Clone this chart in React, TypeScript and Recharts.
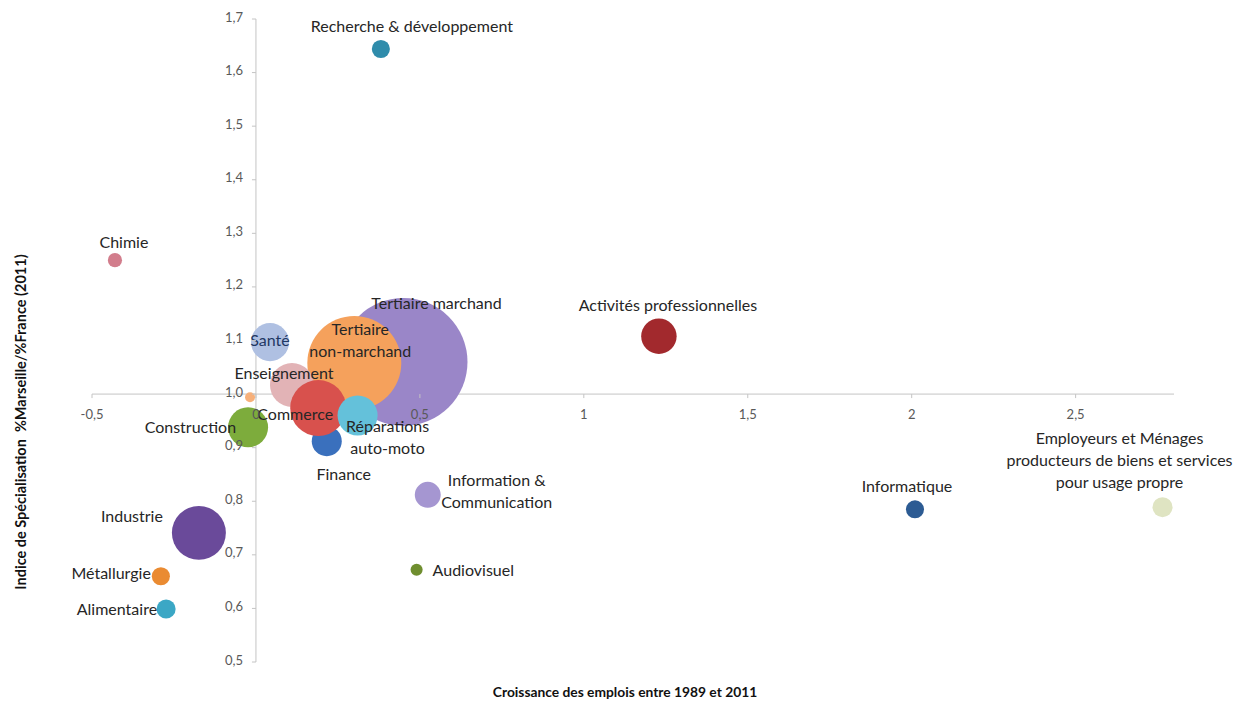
import React from 'react';
import { ScatterChart, Scatter, XAxis, YAxis, ZAxis, ReferenceLine, ReferenceDot } from 'recharts';

// Sectors, in drawing order (first one sits underneath)
const sectors = [
  'Tertiaire marchand',
  'Tertiaire\nnon-marchand',
  'Enseignement',
  'Finance',
  'Commerce',
  'Réparations\nauto-moto',
  'Santé',
  'Construction',
  'Autres',
  'Industrie',
  'Métallurgie',
  'Alimentaire',
  'Chimie',
  'Recherche & développement',
  'Activités professionnelles',
  'Information &\nCommunication',
  'Audiovisuel',
  'Informatique',
  'Employeurs et Ménages\nproducteurs de biens et services\npour usage propre',
];

// Croissance des emplois 1989-2011
const growth = [0.45, 0.3, 0.11, 0.216, 0.19, 0.31, 0.043, -0.024, -0.018, -0.174, -0.29, -0.274, -0.43, 0.381, 1.229, 0.524, 0.49, 2.01, 2.765];

// Indice de spécialisation %Marseille/%France (2011)
const specialisation = [1.06, 1.058, 1.017, 0.912, 0.974, 0.96, 1.097, 0.938, 0.994, 0.741, 0.66, 0.599, 1.25, 1.644, 1.108, 0.812, 0.672, 0.785, 0.789];

// Emplois (milliers) -> bubble area
const jobs = [180, 97, 21.3, 9.9, 34.5, 17.6, 15.9, 17.6, 1.1, 32, 3.6, 4.0, 2.2, 3.6, 13.8, 7.4, 1.6, 3.6, 4.4];

const xTicks = [-0.5, 0, 0.5, 1, 1.5, 2, 2.5];
const xTickLabels = ['-0,5', '0', '0,5', '1', '1,5', '2', '2,5'];
const yTicks = [0.5, 0.6, 0.7, 0.8, 0.9, 1.0, 1.1, 1.2, 1.3, 1.4, 1.5, 1.6, 1.7];
const yTickLabels = ['0,5', '0,6', '0,7', '0,8', '0,9', '1,0', '1,1', '1,2', '1,3', '1,4', '1,5', '1,6', '1,7'];

const bubbleColors = [
  '#9a86c8', '#f5a15c', '#e2b3b6', '#3a70bd', '#d8514d', '#64c1da', '#afc0e2', '#7dac3c',
  '#f7b07a', '#6a4a9a', '#ea8b32', '#3ba7c5', '#d27d8c', '#2f8cab', '#a2292d', '#a596d1',
  '#6f8e2f', '#2c5b93', '#dfe4c2',
];

// label offset from the bubble centre, null = no label
type LabelPlace = { dx: number; dy: number; anchor: 'start' | 'middle' | 'end'; color?: string } | null;
const labelLayout: LabelPlace[] = [
  { dx: 33, dy: -59, anchor: 'middle' },
  { dx: 6, dy: -23, anchor: 'middle' },
  { dx: -8, dy: -12, anchor: 'middle' },
  { dx: 17, dy: 33, anchor: 'middle' },
  { dx: -23, dy: 6, anchor: 'middle' },
  { dx: 30, dy: 22, anchor: 'middle' },
  { dx: 0, dy: -2, anchor: 'middle', color: '#1f3864' },
  { dx: -12, dy: 0, anchor: 'end' },
  null,
  { dx: -36, dy: -16, anchor: 'end' },
  { dx: -10, dy: -3, anchor: 'end' },
  { dx: -9, dy: 0, anchor: 'end' },
  { dx: 9, dy: -18, anchor: 'middle' },
  { dx: 31, dy: -23, anchor: 'middle' },
  { dx: 9, dy: -31, anchor: 'middle' },
  { dx: 69, dy: -3, anchor: 'middle' },
  { dx: 16, dy: 1, anchor: 'start' },
  { dx: -8, dy: -23, anchor: 'middle' },
  { dx: -43, dy: -47, anchor: 'middle' },
];

const data = sectors.map((name, i) => ({ name, idx: i, x: growth[i], y: specialisation[i], z: jobs[i] }));

const FONT = "Lato, 'Open Sans', sans-serif";
const AXIS_COLOR = '#c4c4c4';
const TICK_COLOR = '#595959';

const Bubble = (props: any) => {
  const { cx, cy, width, payload } = props;
  return <circle cx={cx} cy={cy} r={width / 2} fill={bubbleColors[payload.idx]} />;
};

const BubbleLabel = (props: any) => {
  const { cx, cy, payload } = props;
  const place = labelLayout[payload.idx];
  if (!place) return <g />;
  const lines: string[] = payload.name.split('\n');
  const lineHeight = 22;
  const top = cy + place.dy - ((lines.length - 1) * lineHeight) / 2;
  return (
    <g>
      {lines.map((line, k) => (
        <text
          key={k}
          x={cx + place.dx}
          y={top + k * lineHeight}
          dy="0.35em"
          textAnchor={place.anchor}
          fontFamily={FONT}
          fontSize={16}
          fill={place.color || '#262626'}
        >
          {line}
        </text>
      ))}
    </g>
  );
};

const xTickShape = (label: string) => (p: any) => (
  <g>
    <line x1={p.cx} y1={p.cy} x2={p.cx} y2={p.cy + 4} stroke={AXIS_COLOR} />
    <text x={p.cx} y={p.cy + 20} dy="0.35em" textAnchor="middle" fontFamily={FONT} fontSize={13} fill={TICK_COLOR}>
      {label}
    </text>
  </g>
);

const yTickShape = (label: string) => (p: any) => (
  <g>
    <line x1={p.cx - 4} y1={p.cy} x2={p.cx} y2={p.cy} stroke={AXIS_COLOR} />
    <text x={p.cx - 13} y={p.cy - 2} dy="0.35em" textAnchor="end" fontFamily={FONT} fontSize={13} fill={TICK_COLOR}>
      {label}
    </text>
  </g>
);

export default function App() {
  return (
    <div style={{ position: 'absolute', left: 0, top: 0, width: 1244, height: 703, background: '#fff' }}>
      <ScatterChart
        width={1244}
        height={703}
        margin={{ top: 19, right: 70, bottom: 41, left: 92 }}
        style={{ overflow: 'visible' }}
      >
        <XAxis type="number" dataKey="x" domain={[-0.5, 2.8]} hide />
        <YAxis type="number" dataKey="y" domain={[0.5, 1.7]} hide />
        <ZAxis type="number" dataKey="z" domain={[0, 180]} range={[0, Math.PI * 64 * 64]} />

        {/* axes crossing at (0, 1) */}
        <ReferenceLine y={1} stroke={AXIS_COLOR} strokeWidth={1} />
        <ReferenceLine x={0} stroke={AXIS_COLOR} strokeWidth={1} />

        <Scatter data={data} shape={Bubble} isAnimationActive={false} />
        <Scatter data={data} shape={BubbleLabel} isAnimationActive={false} />

        {xTicks.map((v, i) => (
          <ReferenceDot key={'x' + v} x={v} y={1} r={0} shape={xTickShape(xTickLabels[i])} />
        ))}
        {yTicks.map((v, i) => (
          <ReferenceDot key={'y' + v} x={0} y={v} r={0} shape={yTickShape(yTickLabels[i])} />
        ))}
      </ScatterChart>

      <div
        style={{
          position: 'absolute',
          left: 625,
          top: 691,
          transform: 'translate(-50%, -50%)',
          whiteSpace: 'nowrap',
          fontFamily: FONT,
          fontWeight: 700,
          fontSize: 13.8,
          color: '#111',
        }}
      >
        Croissance des emplois entre 1989 et 2011
      </div>
      <div
        style={{
          position: 'absolute',
          left: 20,
          top: 422,
          transform: 'translate(-50%, -50%) rotate(-90deg)',
          whiteSpace: 'pre',
          fontFamily: FONT,
          fontWeight: 700,
          fontSize: 14.5,
          color: '#111',
        }}
      >
        {'Indice de Spécialisation  %Marseille/%France (2011)'}
      </div>
    </div>
  );
}
